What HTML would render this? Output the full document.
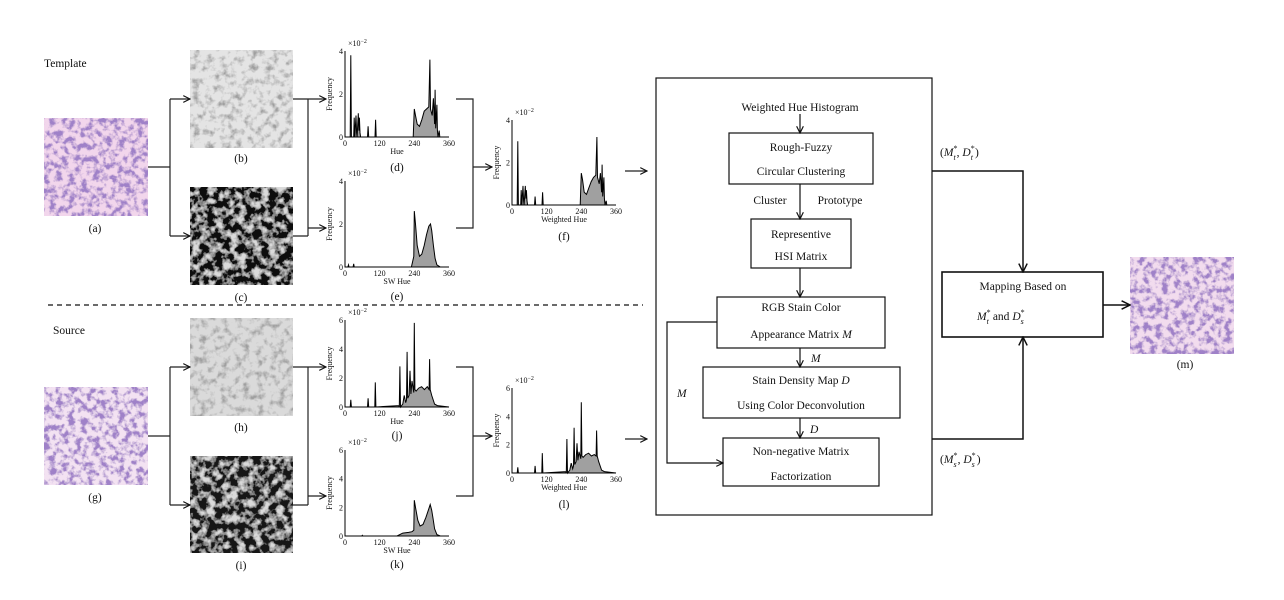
<!DOCTYPE html>
<html><head><meta charset="utf-8"><style>
html,body{margin:0;padding:0;background:#fff}
svg{display:block}
text{font-family:"Liberation Serif",serif;fill:#111}
.t{font-size:11.5px}
.s{font-size:8px}
</style></head><body>
<svg id="fig" width="1284" height="600" viewBox="0 0 1284 600" xmlns="http://www.w3.org/2000/svg">
<defs>
<marker id="ar" viewBox="0 0 10 10" refX="9" refY="5" markerWidth="7" markerHeight="7" orient="auto"><path d="M1,1 L9,5 L1,9" fill="none" stroke="#111" stroke-width="1.4"/></marker>
<filter id="fPink" x="0" y="0" width="1" height="1"><feTurbulence type="fractalNoise" baseFrequency="0.16" numOctaves="3" seed="3"/><feColorMatrix type="matrix" values="0 0 0 0 0.35  0 0 0 0 0.22  0 0 0 0 0.58  0 0 0 -4 2.3"/><feComposite in2="SourceGraphic" operator="over"/></filter>
<filter id="fGray" x="0" y="0" width="1" height="1"><feTurbulence type="fractalNoise" baseFrequency="0.14" numOctaves="3" seed="7"/><feColorMatrix type="matrix" values="0 0 0 0 0.35  0 0 0 0 0.35  0 0 0 0 0.35  0 0 0 -3 1.6"/><feComposite in2="SourceGraphic" operator="over"/></filter>
<filter id="fDark" x="0" y="0" width="1" height="1"><feTurbulence type="fractalNoise" baseFrequency="0.13" numOctaves="3" seed="5"/><feColorMatrix type="matrix" values="0 0 0 0 0.7  0 0 0 0 0.7  0 0 0 0 0.7  0 0 0 -3.5 2.0"/><feComposite in2="SourceGraphic" operator="over"/></filter>
</defs>

<text class="t" x="44" y="67">Template</text>
<text class="t" x="53" y="334">Source</text>

<rect x="44" y="118" width="104" height="98" fill="#f2d6ec" filter="url(#fPink)"/>
<rect x="190" y="50" width="103" height="98" fill="#e4e4e4" filter="url(#fGray)"/>
<rect x="190" y="187" width="103" height="98" fill="#101010" filter="url(#fDark)"/>
<rect x="44" y="387" width="104" height="98" fill="#f3e2f2" filter="url(#fPink)"/>
<rect x="190" y="318" width="103" height="98" fill="#dadada" filter="url(#fGray)"/>
<rect x="190" y="456" width="103" height="97" fill="#141414" filter="url(#fDark)"/>
<rect x="1130" y="257" width="104" height="97" fill="#f2dcee" filter="url(#fPink)"/>

<g class="t" text-anchor="middle">
<text x="95" y="232">(a)</text><text x="241" y="162">(b)</text><text x="241" y="301">(c)</text>
<text x="95" y="501">(g)</text><text x="241" y="431">(h)</text><text x="241" y="569">(i)</text>
<text x="1185" y="368">(m)</text>
<text x="397" y="171">(d)</text><text x="397" y="300">(e)</text><text x="564" y="240">(f)</text>
<text x="397" y="439">(j)</text><text x="397" y="568">(k)</text><text x="564" y="508">(l)</text>
</g>

<g fill="none" stroke="#222" stroke-width="1.2">
<path d="M148,167 H170"/><path d="M170,99 V236"/><path d="M170,99 H190" marker-end="url(#ar)"/><path d="M170,236 H190" marker-end="url(#ar)"/>
<path d="M293,99 H308 M293,236 H308 M308,99 V236"/><path d="M308,99 H326" marker-end="url(#ar)"/><path d="M308,228 H326" marker-end="url(#ar)"/>
<path d="M456,99 H473 V228 H456"/><path d="M473,167 H492" marker-end="url(#ar)"/>
<path d="M625,171 H647" marker-end="url(#ar)"/>
<path d="M148,436 H170"/><path d="M170,367 V505"/><path d="M170,367 H190" marker-end="url(#ar)"/><path d="M170,505 H190" marker-end="url(#ar)"/>
<path d="M293,367 H308 M293,505 H308 M308,367 V505"/><path d="M308,367 H326" marker-end="url(#ar)"/><path d="M308,496 H326" marker-end="url(#ar)"/>
<path d="M456,367 H473 V496 H456"/><path d="M473,436 H492" marker-end="url(#ar)"/>
<path d="M625,439 H647" marker-end="url(#ar)"/>
</g>
<line x1="48" y1="305" x2="643" y2="305" stroke="#111" stroke-width="1.3" stroke-dasharray="5,4"/>

<g id="hists"></g>

<rect x="656" y="78" width="276" height="437" fill="none" stroke="#111" stroke-width="1.2"/>
<g class="t" text-anchor="middle">
<text x="800" y="111">Weighted Hue Histogram</text>
<g><rect x="729" y="133" width="144" height="51" fill="none" stroke="#111" stroke-width="1.2"/><text x="801" y="151">Rough-Fuzzy</text><text x="801" y="175">Circular Clustering</text></g>
<text x="770" y="204">Cluster</text><text x="840" y="204">Prototype</text>
<g><rect x="751" y="219" width="100" height="49" fill="none" stroke="#111" stroke-width="1.2"/><text x="801" y="238">Representive</text><text x="801" y="260">HSI Matrix</text></g>
<g><rect x="717" y="297" width="168" height="51" fill="none" stroke="#111" stroke-width="1.2"/><text x="801" y="311">RGB Stain Color</text><text x="801" y="338">Appearance Matrix <tspan font-style="italic">M</tspan></text></g>
<g><rect x="703" y="367" width="197" height="51" fill="none" stroke="#111" stroke-width="1.2"/><text x="801" y="384">Stain Density Map <tspan font-style="italic">D</tspan></text><text x="801" y="409">Using Color Deconvolution</text></g>
<g><rect x="723" y="438" width="156" height="48" fill="none" stroke="#111" stroke-width="1.2"/><text x="801" y="455">Non-negative Matrix</text><text x="801" y="480">Factorization</text></g>
<g><rect x="942" y="272" width="161" height="65" fill="none" stroke="#111" stroke-width="1.6"/><text x="1023" y="290">Mapping Based on</text></g>
</g>
<g class="t">
<text x="977" y="320"><tspan font-style="italic">M</tspan><tspan font-size="8" dy="-5">*</tspan><tspan font-size="8" dy="9" dx="-4" font-style="italic">t</tspan><tspan dy="-4" dx="4">and </tspan><tspan font-style="italic">D</tspan><tspan font-size="8" dy="-5">*</tspan><tspan font-size="8" dy="9" dx="-4" font-style="italic">s</tspan></text>
<text x="940" y="156">(<tspan font-style="italic">M</tspan><tspan font-size="8" dy="-5">*</tspan><tspan font-size="8" dy="9" dx="-4" font-style="italic">t</tspan><tspan dy="-4" dx="1">, </tspan><tspan font-style="italic">D</tspan><tspan font-size="8" dy="-5">*</tspan><tspan font-size="8" dy="9" dx="-4" font-style="italic">t</tspan><tspan dy="-4" dx="2">)</tspan></text>
<text x="940" y="463">(<tspan font-style="italic">M</tspan><tspan font-size="8" dy="-5">*</tspan><tspan font-size="8" dy="9" dx="-4" font-style="italic">s</tspan><tspan dy="-4" dx="1">, </tspan><tspan font-style="italic">D</tspan><tspan font-size="8" dy="-5">*</tspan><tspan font-size="8" dy="9" dx="-4" font-style="italic">s</tspan><tspan dy="-4" dx="2">)</tspan></text>
<text x="811" y="362" font-style="italic">M</text>
<text x="810" y="433" font-style="italic">D</text>
<text x="677" y="397" font-style="italic">M</text>
</g>
<g fill="none" stroke="#111" stroke-width="1.2">
<path d="M800,114 V133" marker-end="url(#ar)"/><path d="M800,184 V219" marker-end="url(#ar)"/><path d="M800,268 V297" marker-end="url(#ar)"/>
<path d="M800,348 V367" marker-end="url(#ar)"/><path d="M800,418 V438" marker-end="url(#ar)"/>
<path d="M717,322 H667 V463 H723" marker-end="url(#ar)"/>
<path d="M932,171 H1023 V272" stroke-width="1.5" marker-end="url(#ar)"/>
<path d="M932,439 H1023 V337" stroke-width="1.5" marker-end="url(#ar)"/>
<path d="M1103,305 H1130" stroke-width="1.5" marker-end="url(#ar)"/>
</g>
</svg>
<script>
const hueD=[0,18,20,22,30,32,34,38,40,42,46,48,50,52,54,78,80,82,104,106,108,236,240,244,250,258,266,274,282,290,294,296,298,302,306,310,312,314,318,320,322,326,328,332,340,360];
const freqD=[0,0,3.8,0,0,0.9,0,1.0,0.2,0,1.1,0.3,0.9,0.2,0,0,0.5,0,0,0.8,0,0,1.3,1.0,0.6,0.5,0.8,1.2,1.3,1.4,3.6,1.3,1.2,1.0,1.8,0.6,2.2,0.4,1.5,0.3,0,0.3,0,0,0,0];
const hueE=[0,10,12,14,28,30,32,230,238,240,244,250,258,266,274,282,290,296,300,306,312,318,324,330,360];
const freqE=[0,0,0.1,0,0,0.15,0,0,0.5,2.6,2.0,1.0,0.5,0.6,1.0,1.5,1.9,2.0,1.7,1.0,0.4,0.1,0.05,0,0];
const hueF=[0,18,20,22,30,32,34,38,40,42,46,48,50,52,54,78,80,82,104,106,108,236,240,244,250,258,266,274,282,290,294,296,298,302,306,310,312,314,318,320,322,326,328,332,340,360];
const freqF=[0,0,3.0,0,0,0.7,0,0.9,0.2,0,0.9,0.3,0.7,0.2,0,0,0.4,0,0,0.6,0,0,1.5,1.2,0.6,0.5,0.8,1.1,1.3,1.4,3.2,1.3,1.2,1.0,1.5,0.6,1.9,0.4,1.3,0.3,0,0.2,0,0,0,0];
const hueJ=[0,18,20,22,78,80,82,103,105,107,186,188,190,192,200,205,210,213,215,217,222,225,228,232,238,240,242,246,255,265,275,285,291,293,295,300,310,320,360];
const freqJ=[0,0,0.5,0,0,0.6,0,0,1.7,0,0.1,0,2.8,0,0.2,0.8,0.3,0.5,3.8,0.6,0.8,2.5,0.9,1.8,1.0,5.8,1.2,1.1,1.3,1.4,1.2,1.4,1.2,3.3,1.2,0.8,0.2,0.1,0];
const hueK=[0,58,60,62,180,200,220,232,238,240,244,252,260,270,280,290,295,300,305,310,318,330,360];
const freqK=[0,0,0.05,0,0,0.2,0.25,0.3,0.4,2.5,2.0,1.1,0.7,0.8,1.3,1.9,2.2,1.8,1.2,0.5,0.1,0,0];
const hueL=[0,18,20,22,78,80,82,103,105,107,186,188,190,192,200,205,210,213,215,217,222,225,228,232,238,240,242,246,255,265,275,285,291,293,295,300,310,320,360];
const freqL=[0,0,0.4,0,0,0.5,0,0,1.4,0,0.1,0,2.4,0,0.2,0.7,0.3,0.5,3.2,0.6,0.8,2.1,0.9,1.5,1.0,5.0,1.2,1.1,1.3,1.4,1.2,1.3,1.2,3.0,1.2,0.8,0.2,0.1,0];
const xTicks=[0,120,240,360];
const yTicks4=[0,2,4];
const yTicks6=[0,2,4,6];
const NS='http://www.w3.org/2000/svg';
const root=document.getElementById('hists');
function mk(tag,attrs,parent){const e=document.createElementNS(NS,tag);for(const k in attrs)e.setAttribute(k,attrs[k]);parent.appendChild(e);return e;}
function hist(name,x0,x1,y0,yT,ymax,yt,hue,freq,xlabel){
  const g=mk('g',{},root);
  
  
  const sx=v=>x0+(x1-x0)*v/360, sy=v=>y0-(y0-yT)*v/ymax;
  let d='M'+sx(hue[0])+','+y0;
  for(let i=0;i<hue.length;i++)d+=' L'+sx(hue[i]).toFixed(1)+','+sy(freq[i]).toFixed(1);
  d+=' L'+sx(hue[hue.length-1])+','+y0+' Z';
  const p=mk('path',{d:d,fill:'#a0a0a0',stroke:'#000','stroke-width':'1'},g);
  
  
  mk('path',{d:'M'+x0+','+yT+' V'+y0+' H'+x1,fill:'none',stroke:'#000','stroke-width':'1'},g);
  xTicks.forEach(t=>{const e=mk('text',{x:sx(t),y:y0+9,'text-anchor':'middle',class:'s'},g);e.textContent=t;});
  yt.forEach(t=>{const e=mk('text',{x:x0-2,y:sy(t)+3,'text-anchor':'end',class:'s'},g);e.textContent=t;});
  const m=mk('text',{x:x0+3,y:yT-5,class:'s'},g);m.innerHTML='×10<tspan dy="-3" font-size="6">−2</tspan>';
  const xl=mk('text',{x:(x0+x1)/2,y:y0+17,'text-anchor':'middle',class:'s'},g);xl.textContent=xlabel;
  const cy=(y0+yT)/2;
  const yl=mk('text',{x:x0-13,y:cy,'text-anchor':'middle',class:'s',transform:'rotate(-90 '+(x0-13)+' '+cy+')'},g);yl.textContent='Frequency';
}
hist('histogram-d',345,449,137,51,4,yTicks4,hueD,freqD,'Hue');
hist('histogram-e',345,449,267,181,4,yTicks4,hueE,freqE,'SW Hue');
hist('histogram-f',512,616,205,120,4,yTicks4,hueF,freqF,'Weighted Hue');
hist('histogram-j',345,449,407,320,6,yTicks6,hueJ,freqJ,'Hue');
hist('histogram-k',345,449,536,450,6,yTicks6,hueK,freqK,'SW Hue');
hist('histogram-l',512,616,473,388,6,yTicks6,hueL,freqL,'Weighted Hue');
</script>
</body></html>
